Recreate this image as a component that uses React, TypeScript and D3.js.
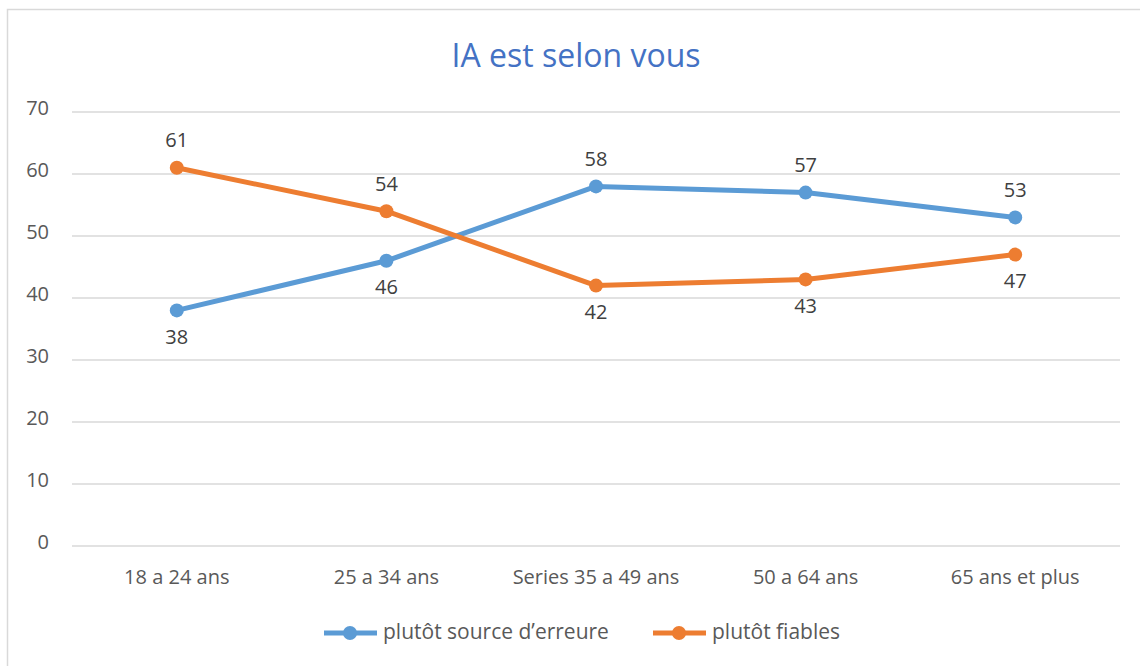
import React from "react";
import * as d3 from "d3";

const categories = ["18 a 24 ans", "25 a 34 ans", "Series 35 a 49 ans", "50 a 64 ans", "65 ans et plus"];
const sourceErreure = [38, 46, 58, 57, 53];
const fiables = [61, 54, 42, 43, 47];
const yTicks = [0, 10, 20, 30, 40, 50, 60, 70];
// label placement: true = above point
const sourcePos = [false, false, true, true, true];
const fiablesPos = [true, true, false, false, false];

const W = 1140, H = 666;
const FONT = "'Open Sans', 'Noto Sans', sans-serif";

export default function App() {
  const x = d3.scaleBand<string>().domain(categories).range([72, 1120]);
  const y = d3.scaleLinear().domain([0, 70]).range([546, 112]);
  const cx = (c: string) => (x(c) as number) + x.bandwidth() / 2;
  const line = d3.line<number>().x((_, i) => cx(categories[i])).y((d) => y(d));
  const series = [
    { name: "plutôt source d’erreure", data: sourceErreure, color: "#5B9BD5", pos: sourcePos },
    { name: "plutôt fiables", data: fiables, color: "#ED7D31", pos: fiablesPos },
  ];
  const legend = [
    { x0: 324, tx: 383 },
    { x0: 653, tx: 712 },
  ];
  return (
    <svg width={W} height={H} style={{ position: "absolute", left: 0, top: 0 }} fontFamily={FONT}>
      <rect x={0} y={0} width={W} height={H} fill="#fff" />
      <rect x={7.5} y={9.5} width={1140} height={700} fill="#fff" stroke="#d9d9d9" strokeWidth={1.5} />
      <text x={576} y={58} textAnchor="middle" dominantBaseline="middle" fontSize={32} fill="#4472C4">
        IA est selon vous
      </text>
      {yTicks.map((t) => (
        <g key={t}>
          <line x1={72} x2={1120} y1={y(t)} y2={y(t)} stroke="#d9d9d9" strokeWidth={1.5} />
          <text x={49} y={y(t) - 2} textAnchor="end" dominantBaseline="middle" fontSize={20} fill="#595959">
            {t}
          </text>
        </g>
      ))}
      {categories.map((c) => (
        <text key={c} x={cx(c)} y={579} textAnchor="middle" dominantBaseline="middle" fontSize={20} fill="#595959">
          {c}
        </text>
      ))}
      {series.map((s) => (
        <g key={s.name}>
          <path d={line(s.data) || ""} fill="none" stroke={s.color} strokeWidth={5} strokeLinejoin="round" />
          {s.data.map((v, i) => (
            <circle key={i} cx={cx(categories[i])} cy={y(v)} r={7} fill={s.color} />
          ))}
          {s.data.map((v, i) => (
            <text
              key={"l" + i}
              x={cx(categories[i])}
              y={y(v) + (s.pos[i] ? -26 : 28)}
              textAnchor="middle"
              dominantBaseline="middle"
              fontSize={20}
              fill="#404040"
            >
              {v}
            </text>
          ))}
        </g>
      ))}
      {series.map((s, i) => (
        <g key={"lg" + i}>
          <line x1={legend[i].x0} x2={legend[i].x0 + 53} y1={633} y2={633} stroke={s.color} strokeWidth={5} />
          <circle cx={legend[i].x0 + 26} cy={633} r={7} fill={s.color} />
          <text x={legend[i].tx} y={633} dominantBaseline="middle" fontSize={21} fill="#595959">
            {s.name}
          </text>
        </g>
      ))}
    </svg>
  );
}
